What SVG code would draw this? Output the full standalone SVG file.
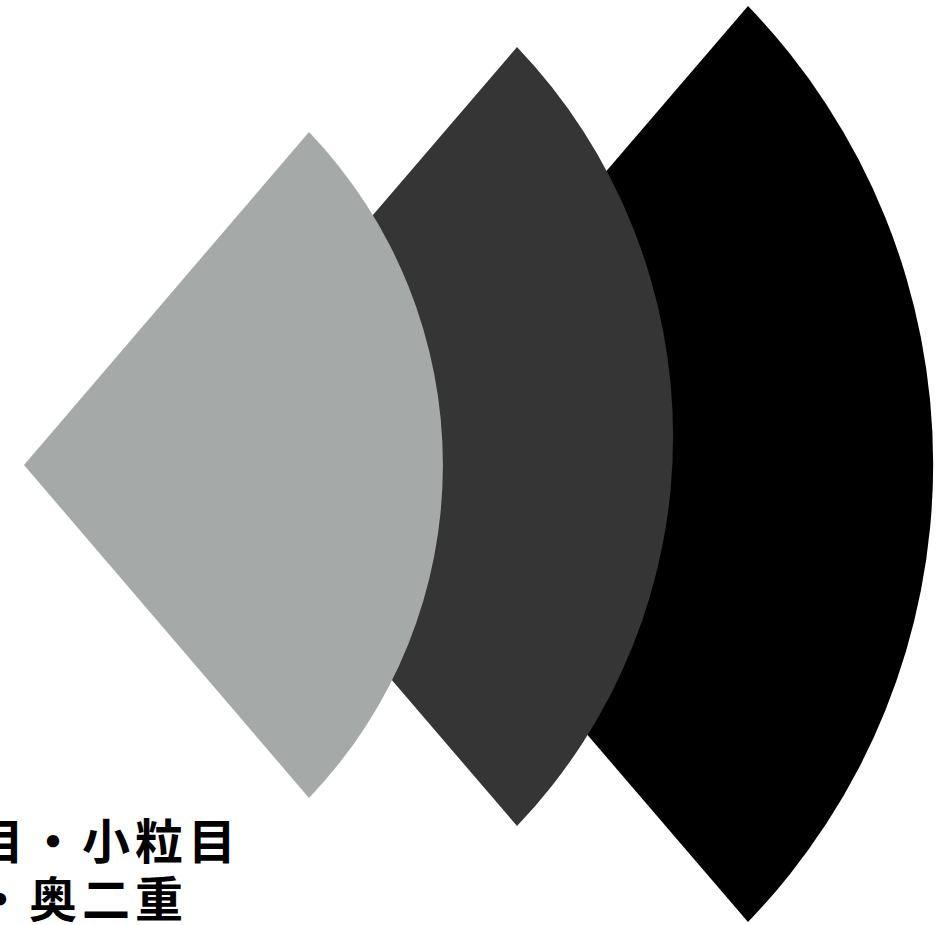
<svg xmlns="http://www.w3.org/2000/svg" width="943" height="925" viewBox="0 0 943 925">
<style>
.lbl{font-family:"Noto Sans CJK JP","Noto Sans CJK SC",sans-serif;font-size:48px;font-weight:bold;fill:#000;letter-spacing:5px}
</style>
<rect width="943" height="925" fill="#fff"/>
<g id="sector-black"><path d="M355,464 L748,6 A659,659 0 0 1 748,922 Z" fill="#000000"/></g>
<g id="sector-dark"><path d="M183,436.5 L517,47 A564,564 0 0 1 517,826 Z" fill="#353535"/></g>
<g id="sector-gray"><path d="M24,465 L309,132 A481,481 0 0 1 309,798 Z" fill="#A5A9A7"/></g>
<g id="label">
<text class="lbl" x="-24" y="859">目・小粒目</text>
<text class="lbl" x="-24" y="917">・奥二重</text>
</g>
</svg>
